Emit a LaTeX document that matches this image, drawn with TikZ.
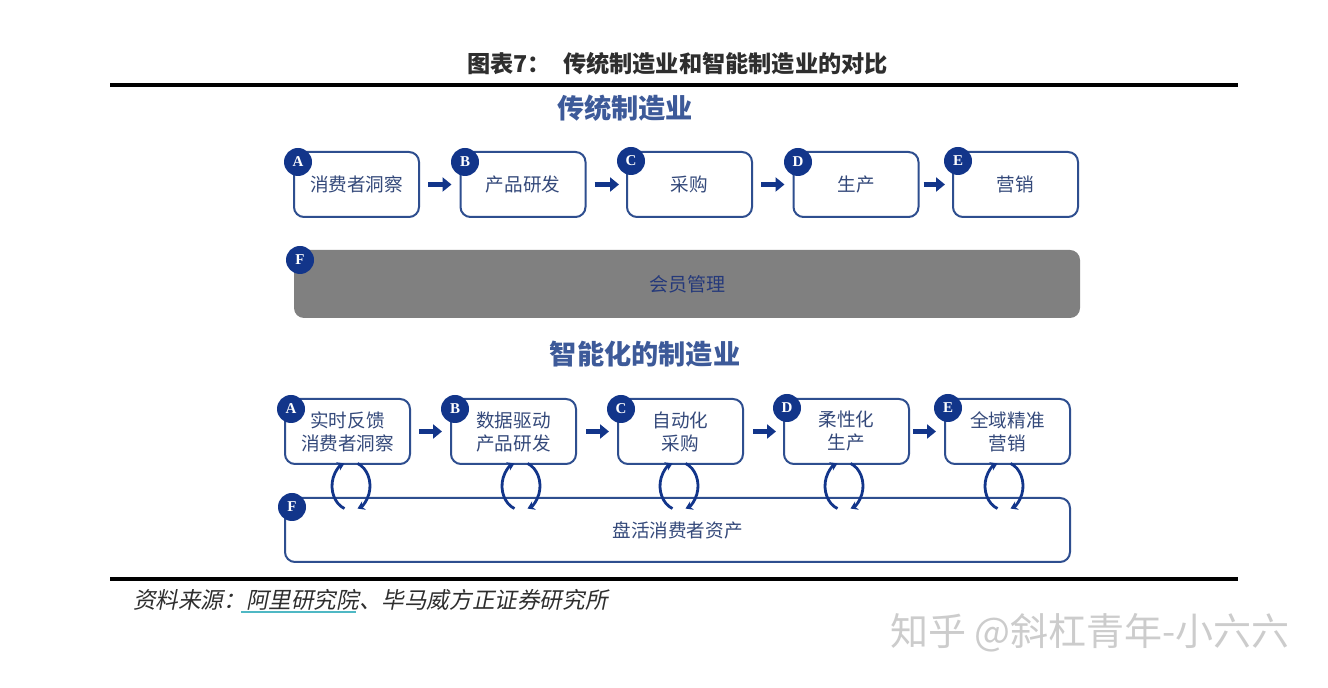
\documentclass[tikz,border=0pt]{standalone}
\usepackage{fontspec}
\setmainfont{Liberation Serif}
\newfontfamily\cjk{Noto Sans CJK SC}
\newfontfamily\cjkslant[FakeSlant=0.2]{Noto Sans CJK SC}
\usetikzlibrary{arrows.meta}
\definecolor{boxblue}{HTML}{2E4E8F}
\definecolor{badgeblue}{HTML}{12358A}
\definecolor{headblue}{HTML}{3D5A99}
\definecolor{txtblue}{HTML}{34497A}
\definecolor{barblue}{HTML}{25397A}
\definecolor{bargray}{HTML}{808080}
\definecolor{titlegray}{HTML}{2E2E2E}
\definecolor{linkcyan}{HTML}{4FB8C4}
\tikzset{
  box/.style={draw=boxblue, line width=1pt, rounded corners=5pt, fill=white,
    minimum width=62.5pt, minimum height=32.5pt, inner sep=1pt, align=center,
    text=txtblue, font=\cjk\fontsize{9.3}{11.5}\selectfont},
  badge/.style={circle, fill=badgeblue, text=white, minimum size=14pt, inner sep=0pt,
    font=\bfseries\fontsize{7.5}{8}\selectfont},
  flow/.style={-{Triangle[length=4.5pt,width=7pt]}, line width=2.6pt, draw=badgeblue},
  cyc/.style={-{Stealth[length=3.5pt,width=4.5pt]}, line width=1.4pt, draw=badgeblue},
  heading/.style={text=headblue, font=\cjk\bfseries\fontsize{13.6}{15}\selectfont},
}
\begin{document}
\begin{tikzpicture}[x=0.5pt,y=-0.5pt]
\useasboundingbox[fill=white] (0,0) rectangle (1328,688);

% title and rules
\node[anchor=west, text=titlegray, font=\cjk\bfseries\fontsize{11.6}{13}\selectfont] (t0) at (460,64) {图表7：};
\node[anchor=west, text=titlegray, font=\cjk\bfseries\fontsize{11.6}{13}\selectfont] (t1) at (556,64) {传统制造业和智能制造业的对比};
\draw[line width=1.6pt, black] (110,85) -- (1238,85);
\draw[line width=2pt, black] (110,579) -- (1238,579);

% traditional manufacturing
\node[heading] (h1) at (625,108) {传统制造业};
\node[box] (a1) at (356.5,184.5) {消费者洞察};
\node[box] (b1) at (523,184.5) {产品研发};
\node[box] (c1) at (689.5,184.5) {采购};
\node[box] (d1) at (856,184.5) {生产};
\node[box] (e1) at (1015.5,184.5) {营销};
\foreach \p/\q/\s/\t in {a1/b1/4/4,b1/c1/4/3.5,c1/d1/4/4,d1/e1/2/3.5}
  \draw[flow, shorten <=\s pt, shorten >=\t pt] (\p) -- (\q);
\node[badge] (ba1) at (298,162) {A};
\node[badge] (bb1) at (465,162) {B};
\node[badge] (bc1) at (631,161) {C};
\node[badge] (bd1) at (798,162) {D};
\node[badge] (be1) at (958,161) {E};

\node[fill=bargray, rounded corners=5pt, minimum width=393pt, minimum height=34pt,
  text=barblue, font=\cjk\fontsize{9.5}{11}\selectfont] (f1) at (687,284) {会员管理};
\node[badge] (bf1) at (300,260) {F};

% intelligent manufacturing
\node[heading] (h2) at (645,354) {智能化的制造业};
\node[box] (a2) at (347.5,431.5) {实时反馈\\消费者洞察};
\node[box] (b2) at (513.5,431.5) {数据驱动\\产品研发};
\node[box] (c2) at (680.5,431.5) {自动化\\采购};
\node[box] (d2) at (846.5,431.5) {柔性化\\生产};
\node[box] (e2) at (1007.5,431.5) {全域精准\\营销};
\foreach \p/\q/\s/\t in {a2/b2/4/4,b2/c2/4.5/4,c2/d2/4.5/3.5,d2/e2/1.5/4}
  \draw[flow, shorten <=\s pt, shorten >=\t pt] (\p) -- (\q);

\node[box, minimum width=392.5pt, minimum height=32pt] (f2) at (677.5,530) {盘活消费者资产};

\foreach \cx in {351,521,679,844,1004}{
  \draw[cyc] (\cx,486) ++(250:9.5pt and 12pt) arc[start angle=250, end angle=110, x radius=9.5pt, y radius=12pt];
  \draw[cyc] (\cx,486) ++(70:9.5pt and 12pt) arc[start angle=70, end angle=-70, x radius=9.5pt, y radius=12pt];
}

\node[badge] (ba2) at (291,409) {A};
\node[badge] (bb2) at (455,409) {B};
\node[badge] (bc2) at (621,409) {C};
\node[badge] (bd2) at (787,408) {D};
\node[badge] (be2) at (948,408) {E};
\node[badge] (bf2) at (292,507) {F};

% source
\node[anchor=west, text=titlegray, font=\cjkslant\fontsize{11.3}{13}\selectfont] (src) at (126,600) {资料来源：阿里研究院、毕马威方正证券研究所};
\draw[linkcyan, line width=1pt] (241,612) -- (356,612);

% watermark
\node[text=gray!40, font=\cjk\fontsize{19}{22}\selectfont] (wm) at (1090,633) {知乎 @斜杠青年-小六六};
\end{tikzpicture}
\end{document}
